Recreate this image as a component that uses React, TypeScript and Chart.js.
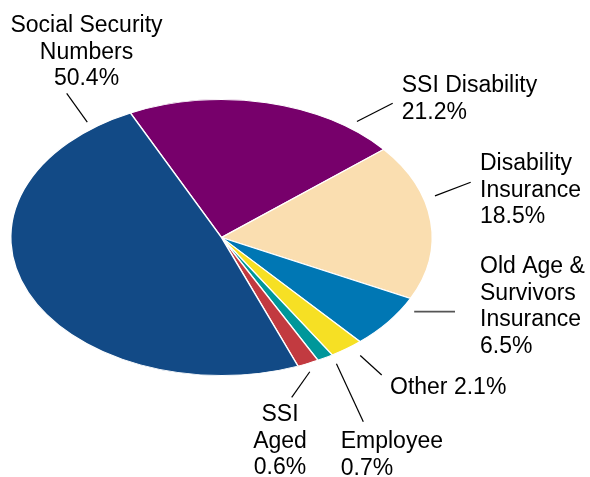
import React, { useEffect, useRef } from "react";
import { Chart, registerables } from "chart.js";

Chart.register(...registerables);

// Categories, clockwise from the top-left boundary
const categories = [
  "SSI Disability",
  "Disability Insurance",
  "Old Age & Survivors Insurance",
  "Other",
  "Employee",
  "SSI Aged",
  "Social Security Numbers",
];
// Slice sizes as drawn in the picture (measured from slice angles)
const sliceValues = [21.1, 18.3, 6.3, 2.6, 1.25, 1.65, 48.8];
// Percentages printed in the labels
const labelPercents = ["21.2%", "18.5%", "6.5%", "2.1%", "0.7%", "0.6%", "50.4%"];
const colors = ["#77006B", "#FADEB0", "#0077B4", "#F6E024", "#00979A", "#C23A40", "#124A86"];

// Label name lines
const labelNames: string[][] = [
  ["SSI Disability"],
  ["Disability", "Insurance"],
  ["Old Age &", "Survivors", "Insurance"],
  ["Other"],
  ["Employee"],
  ["SSI", "Aged"],
  ["Social Security", "Numbers"],
];
const inlinePercent = [false, false, false, true, false, false, false];

// Layout of annotations (not data)
const Y_SCALE = 0.655;
const LABEL_LAYOUT = [
  { x: 401.7, y: 92, align: "left", anchorDeg: 37.4, rf: 1.058, end: [392.7, 103.3], lc: "#000", lw: 1.2 },
  { x: 480, y: 170, align: "left", anchorDeg: 73.4, rf: 1.057, end: [470.7, 182.3], lc: "#000", lw: 1.2 },
  { x: 480, y: 273, align: "left", anchorDeg: 120.4, rf: 1.06, end: [455, 311.7], lc: "#555", lw: 1.8 },
  { x: 390, y: 394, align: "left", anchorDeg: 142.4, rf: 1.079, end: [381.7, 375], lc: "#000", lw: 1.2 },
  { x: 340.7, y: 448, align: "left", anchorDeg: 149.2, rf: 1.065, end: [363.3, 421.7], lc: "#000", lw: 1.2 },
  { x: 280, y: 421, align: "center", anchorDeg: 156.7, rf: 1.059, end: [291.7, 397.3], lc: "#000", lw: 1.2 },
  { x: 86.5, y: 32, align: "center", anchorDeg: -37.3, rf: 1.051, end: [66.7, 93.3], lc: "#000", lw: 1.2 },
];
const LINE_H = 26.7;
const FONT = "23px 'Liberation Sans', Arial, sans-serif";

const ellipsePlugin = {
  id: "ellipse",
  beforeDatasetsDraw(chart: any) {
    const arc = chart.getDatasetMeta(0).data[0];
    if (!arc) return;
    const ctx = chart.ctx;
    ctx.save();
    ctx.translate(arc.x, arc.y);
    ctx.scale(1, Y_SCALE);
    ctx.translate(-arc.x, -arc.y);
  },
  afterDatasetsDraw(chart: any) {
    chart.ctx.restore();
  },
};

const labelPlugin = {
  id: "pieLabels",
  afterDraw(chart: any) {
    const arc = chart.getDatasetMeta(0).data[0];
    if (!arc) return;
    const ctx = chart.ctx;
    const cx = arc.x;
    const cy = arc.y;
    const R = arc.outerRadius;
    ctx.save();
    LABEL_LAYOUT.forEach((L, i) => {
      const a = (L.anchorDeg * Math.PI) / 180;
      const sx = cx + R * L.rf * Math.sin(a);
      const sy = cy - Y_SCALE * R * L.rf * Math.cos(a);
      ctx.beginPath();
      ctx.strokeStyle = L.lc;
      ctx.lineWidth = L.lw;
      ctx.moveTo(sx, sy);
      ctx.lineTo(L.end[0], L.end[1]);
      ctx.stroke();
      ctx.fillStyle = "#000";
      ctx.font = FONT;
      ctx.textAlign = L.align as CanvasTextAlign;
      ctx.textBaseline = "alphabetic";
      const lines = inlinePercent[i]
        ? [labelNames[i].join(" ") + " " + labelPercents[i]]
        : [...labelNames[i], labelPercents[i]];
      lines.forEach((t, j) => {
        ctx.fillText(t, L.x, L.y + j * LINE_H);
      });
    });
    ctx.restore();
  },
};

export default function App() {
  const ref = useRef<HTMLCanvasElement>(null);
  useEffect(() => {
    document.body.style.margin = "0";
    const chart = new Chart(ref.current!, {
      type: "pie",
      data: {
        labels: categories,
        datasets: [
          {
            data: sliceValues,
            backgroundColor: colors,
            borderColor: "#ffffff",
            borderWidth: 1.5,
          },
        ],
      },
      options: {
        animation: false,
        responsive: false,
        rotation: -25.6,
        layout: { padding: { left: 10, right: 157, top: 26, bottom: 28 } },
        plugins: { legend: { display: false }, tooltip: { enabled: false } },
        events: [],
      },
      plugins: [ellipsePlugin, labelPlugin],
    });
    return () => chart.destroy();
  }, []);
  return (
    <div style={{ width: 590, height: 477 }}>
      <canvas ref={ref} width={590} height={477} style={{ display: "block" }} />
    </div>
  );
}
